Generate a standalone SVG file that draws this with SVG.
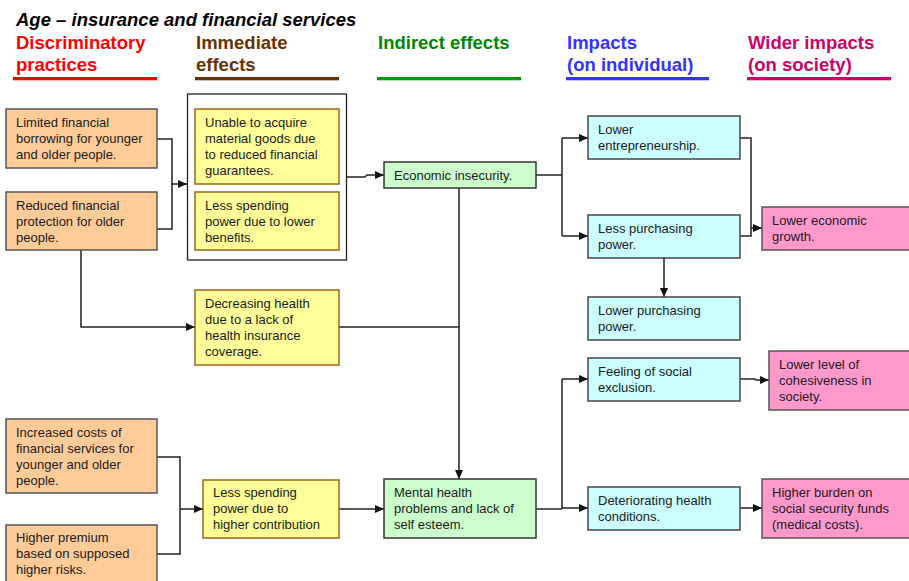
<svg xmlns="http://www.w3.org/2000/svg" width="909" height="581" viewBox="0 0 909 581">
<defs>
<marker id="ah" markerUnits="userSpaceOnUse" markerWidth="10" markerHeight="8" refX="9" refY="4" orient="auto">
<path d="M0,0 L9,4 L0,8 z" fill="#111"/>
</marker>
</defs>
<style>
.t{font-family:"Liberation Sans",Arial,sans-serif;font-size:13px;fill:#1a1a1a}
.h{font-family:"Liberation Sans",Arial,sans-serif;font-size:18.5px;font-weight:bold}
.ti{font-family:"Liberation Sans",Arial,sans-serif;font-size:18.5px;font-weight:bold;font-style:italic;fill:#000}
.or{fill:#FFCC99;stroke:#555;stroke-width:1.5}
.ye{fill:#FFFF99;stroke:#99661a;stroke-width:1.5}
.gr{fill:#CCFFCC;stroke:#333;stroke-width:1.5}
.cy{fill:#CCFFFF;stroke:#444;stroke-width:1.5}
.pk{fill:#FF99CC;stroke:#555;stroke-width:1.5}
.c{fill:none;stroke:#222;stroke-width:1.5}
.a{fill:none;stroke:#222;stroke-width:1.5;marker-end:url(#ah)}
</style>
<rect width="909" height="581" fill="#fff"/>
<g id="headers">
<text class="ti" x="16" y="26">Age – insurance and financial services</text>
<text class="h" fill="#FF0000" x="16" y="49">Discriminatory</text>
<text class="h" fill="#FF0000" x="16" y="71">practices</text>
<rect x="13" y="77" width="144" height="3.3" fill="#FF0000"/>
<text class="h" fill="#663300" x="196" y="49">Immediate</text>
<text class="h" fill="#663300" x="196" y="71">effects</text>
<rect x="195" y="77" width="144" height="3.3" fill="#663300"/>
<text class="h" fill="#008800" x="378" y="49">Indirect effects</text>
<rect x="377" y="77" width="144" height="3.3" fill="#009900"/>
<text class="h" fill="#3333FF" x="567" y="49">Impacts</text>
<text class="h" fill="#3333FF" x="567" y="71">(on individual)</text>
<rect x="566" y="77" width="143" height="3.3" fill="#3333FF"/>
<text class="h" fill="#CC0066" x="748" y="49">Wider impacts</text>
<text class="h" fill="#CC0066" x="748" y="71">(on society)</text>
<rect x="747" y="77" width="144" height="3.3" fill="#CC0066"/>
</g>
<g id="connectors">
<path class="c" d="M157,139 H172 V229 H157"/>
<path class="a" d="M172,184 H187"/>
<path class="a" d="M81,250 V327 H195"/>
<path class="a" d="M346,177 H365 L367,175 H384"/>
<path class="c" d="M339,327 H459"/>
<path class="a" d="M459,188 V479"/>
<path class="c" d="M536,175 H562"/>
<path class="c" d="M562,138 V236"/>
<path class="a" d="M562,138 H588"/>
<path class="a" d="M562,236 H588"/>
<path class="c" d="M740,138 H751 V236 H740"/>
<path class="a" d="M751,228 H762"/>
<path class="a" d="M664,258 V297"/>
<path class="c" d="M536,509 H562"/>
<path class="c" d="M562,379 V509"/>
<path class="a" d="M562,379 H588"/>
<path class="a" d="M562,508 H588"/>
<path class="a" d="M740,379 H755 L756,380 H769"/>
<path class="a" d="M740,508 H762"/>
<path class="c" d="M157,457 H180 V554 H157"/>
<path class="a" d="M180,509 H203"/>
<path class="a" d="M339,509 H384"/>
</g>
<g id="n-limited">
<rect class="or" x="6" y="109" width="151" height="59"/>
<text class="t" x="16" y="127">Limited financial</text>
<text class="t" x="16" y="143">borrowing for younger</text>
<text class="t" x="16" y="159">and older people.</text>
</g>
<g id="n-reduced">
<rect class="or" x="6" y="192" width="151" height="58"/>
<text class="t" x="16" y="210">Reduced financial</text>
<text class="t" x="16" y="226">protection for older</text>
<text class="t" x="16" y="242">people.</text>
</g>
<g id="n-group">
<rect x="187.5" y="94" width="159" height="166" fill="#fff" stroke="#222" stroke-width="1.3"/>
</g>
<g id="n-unable">
<rect class="ye" x="195" y="109" width="144" height="75"/>
<text class="t" x="205" y="127">Unable to acquire</text>
<text class="t" x="205" y="143">material goods due</text>
<text class="t" x="205" y="159">to reduced financial</text>
<text class="t" x="205" y="175">guarantees.</text>
</g>
<g id="n-lessbenefits">
<rect class="ye" x="195" y="192" width="144" height="58"/>
<text class="t" x="205" y="210">Less spending</text>
<text class="t" x="205" y="226">power due to lower</text>
<text class="t" x="205" y="242">benefits.</text>
</g>
<g id="n-decreasing">
<rect class="ye" x="195" y="290" width="144" height="75"/>
<text class="t" x="205" y="308">Decreasing health</text>
<text class="t" x="205" y="324">due to a lack of</text>
<text class="t" x="205" y="340">health insurance</text>
<text class="t" x="205" y="356">coverage.</text>
</g>
<g id="n-econ">
<rect class="gr" x="384" y="162" width="152" height="26"/>
<text class="t" x="394" y="180">Economic insecurity.</text>
</g>
<g id="n-mental">
<rect class="gr" x="384" y="479" width="152" height="59"/>
<text class="t" x="394" y="497">Mental health</text>
<text class="t" x="394" y="513">problems and lack of</text>
<text class="t" x="394" y="529">self esteem.</text>
</g>
<g id="n-entre">
<rect class="cy" x="588" y="116" width="152" height="43"/>
<text class="t" x="598" y="134">Lower</text>
<text class="t" x="598" y="150">entrepreneurship.</text>
</g>
<g id="n-lesspurch">
<rect class="cy" x="588" y="215" width="152" height="43"/>
<text class="t" x="598" y="233">Less purchasing</text>
<text class="t" x="598" y="249">power.</text>
</g>
<g id="n-lowerpurch">
<rect class="cy" x="588" y="297" width="152" height="43"/>
<text class="t" x="598" y="315">Lower purchasing</text>
<text class="t" x="598" y="331">power.</text>
</g>
<g id="n-feeling">
<rect class="cy" x="588" y="358" width="152" height="43"/>
<text class="t" x="598" y="376">Feeling of social</text>
<text class="t" x="598" y="392">exclusion.</text>
</g>
<g id="n-deter">
<rect class="cy" x="588" y="487" width="152" height="43"/>
<text class="t" x="598" y="505">Deteriorating health</text>
<text class="t" x="598" y="521">conditions.</text>
</g>
<g id="n-growth">
<rect class="pk" x="762" y="207" width="152" height="43"/>
<text class="t" x="772" y="225">Lower economic</text>
<text class="t" x="772" y="241">growth.</text>
</g>
<g id="n-cohesive">
<rect class="pk" x="769" y="351" width="145" height="59"/>
<text class="t" x="779" y="369">Lower level of</text>
<text class="t" x="779" y="385">cohesiveness in</text>
<text class="t" x="779" y="401">society.</text>
</g>
<g id="n-burden">
<rect class="pk" x="762" y="479" width="152" height="59"/>
<text class="t" x="772" y="497">Higher burden on</text>
<text class="t" x="772" y="513">social security funds</text>
<text class="t" x="772" y="529">(medical costs).</text>
</g>
<g id="n-increased">
<rect class="or" x="6" y="419" width="151" height="74"/>
<text class="t" x="16" y="437">Increased costs of</text>
<text class="t" x="16" y="453">financial services for</text>
<text class="t" x="16" y="469">younger and older</text>
<text class="t" x="16" y="485">people.</text>
</g>
<g id="n-premium">
<rect class="or" x="6" y="525" width="151" height="62"/>
<text class="t" x="16" y="542">Higher premium</text>
<text class="t" x="16" y="558">based on supposed</text>
<text class="t" x="16" y="574">higher risks.</text>
</g>
<g id="n-lesscontrib">
<rect class="ye" x="203" y="480" width="136" height="58"/>
<text class="t" x="213" y="497">Less spending</text>
<text class="t" x="213" y="513">power due to</text>
<text class="t" x="213" y="529">higher contribution</text>
</g>
</svg>
